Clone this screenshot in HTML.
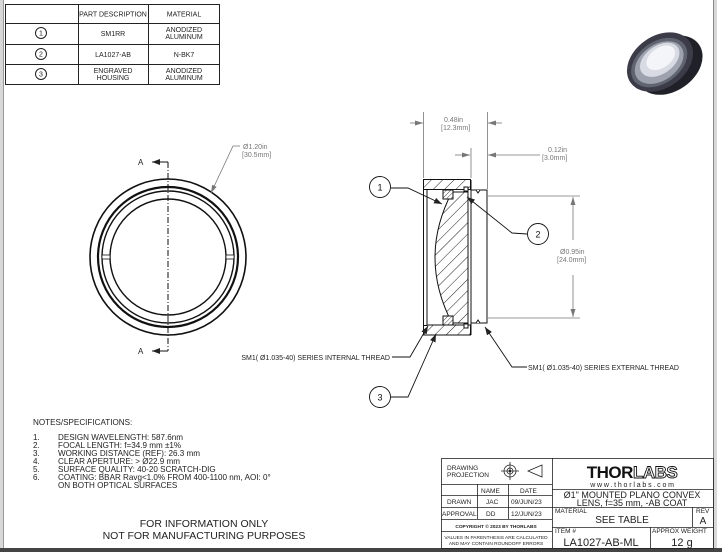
<!DOCTYPE html>
<html><head><meta charset="utf-8"><style>
html,body{margin:0;padding:0;background:#fff;}
svg{display:block;font-family:"Liberation Sans",sans-serif;}
</style></head><body>
<svg width="722" height="552" viewBox="0 0 722 552" xmlns="http://www.w3.org/2000/svg">
<defs>
<pattern id="h" patternUnits="userSpaceOnUse" width="8" height="8" patternTransform="rotate(45)">
<rect width="8" height="8" fill="#fff"/><line x1="0" y1="0" x2="0" y2="8" stroke="#222" stroke-width="1"/></pattern>
<pattern id="h2" patternUnits="userSpaceOnUse" width="3" height="3" patternTransform="rotate(45)">
<rect width="3" height="3" fill="#fff"/><line x1="0" y1="0" x2="0" y2="3" stroke="#222" stroke-width="0.8"/></pattern>
<marker id="ar" markerWidth="8" markerHeight="6" refX="8" refY="3" orient="auto" markerUnits="userSpaceOnUse"><path d="M0,0 L8,3 L0,6z" fill="#222"/></marker>
<marker id="ag" markerWidth="8" markerHeight="5" refX="8" refY="2.5" orient="auto" markerUnits="userSpaceOnUse"><path d="M0,0 L8,2.5 L0,5z" fill="#777"/></marker>
</defs>
<rect width="722" height="552" fill="#fff"/>
<rect x="0" y="0" width="3" height="552" fill="#d8d8d8"/>
<line x1="3.5" y1="0" x2="3.5" y2="548" stroke="#999"/>
<rect x="713" y="0" width="4" height="552" fill="#d8d8d8"/>
<line x1="713.5" y1="0" x2="713.5" y2="548" stroke="#888"/>
<rect x="0" y="548" width="722" height="4" fill="#444"/>

<g stroke="#222" stroke-width="1" fill="none">
<rect x="5.5" y="4.5" width="214" height="80"/>
<line x1="78.5" y1="4" x2="78.5" y2="84"/><line x1="148.5" y1="4" x2="148.5" y2="84"/>
<line x1="5" y1="23.5" x2="219" y2="23.5"/><line x1="5" y1="44.5" x2="219" y2="44.5"/><line x1="5" y1="64.5" x2="219" y2="64.5"/>
<circle cx="41" cy="33" r="5.5"/><circle cx="41" cy="54" r="5.5"/><circle cx="41" cy="74" r="5.5"/>
</g>
<g font-size="7" fill="#222" text-anchor="middle">
<text x="41" y="35.5">1</text><text x="41" y="56.5">2</text><text x="41" y="76.5">3</text>
<text x="113" y="16.5">PART DESCRIPTION</text><text x="184" y="16.5">MATERIAL</text>
<text x="113" y="36">SM1RR</text><text x="184" y="32">ANODIZED</text><text x="184" y="39">ALUMINUM</text>
<text x="113" y="57">LA1027-AB</text><text x="184" y="57">N-BK7</text>
<text x="113" y="73">ENGRAVED</text><text x="113" y="80">HOUSING</text>
<text x="184" y="73">ANODIZED</text><text x="184" y="80">ALUMINUM</text>
</g>

<!-- lens photo -->
<g transform="translate(660,62) rotate(-35)">
<ellipse cx="6" cy="8" rx="36" ry="26" fill="#202028"/>
<ellipse cx="0" cy="0" rx="36" ry="26" fill="#3c3c48"/>
<ellipse cx="-1" cy="0" rx="31" ry="21" fill="#606470"/>
<ellipse cx="-1" cy="0" rx="27" ry="18" fill="#9ea2ae"/>
<ellipse cx="1" cy="-2" rx="22" ry="14" fill="#d8dbe3"/>
<ellipse cx="3" cy="-3" rx="16" ry="10" fill="#f4f5f8"/>
</g>

<g fill="none" stroke="#111">
<circle cx="168" cy="257" r="78" stroke-width="1.6"/>
<circle cx="168" cy="257" r="70" stroke-width="2.2"/>
<circle cx="168" cy="257" r="66" stroke-width="1.4"/>
<circle cx="168" cy="257" r="58" stroke-width="1.4"/>
<line x1="168" y1="162" x2="168" y2="351" stroke-width="1" stroke-dasharray="6,2,1,2"/>
<line x1="168" y1="162" x2="152" y2="162" marker-end="url(#ar)"/>
<line x1="168" y1="351" x2="152" y2="351" marker-end="url(#ar)"/>
<rect x="102" y="255" width="8" height="4" fill="#fff" stroke-width="0.8"/>
<rect x="226" y="255" width="8" height="4" fill="#fff" stroke-width="0.8"/>
</g>
<text x="138" y="165" font-size="8" fill="#222">A</text>
<text x="138" y="354" font-size="8" fill="#222">A</text>
<polyline points="240,146 233,146 211,193" fill="none" stroke="#777" stroke-width="0.8" marker-end="url(#ag)"/>
<text x="243" y="149" font-size="7" fill="#777">Ø1.20in</text>
<text x="242" y="157" font-size="7" fill="#777">[30.5mm]</text>

<g stroke="#111" stroke-width="1">
<rect x="423.5" y="179.5" width="47" height="10" fill="url(#h)"/>
<rect x="423.5" y="325" width="47" height="10" fill="url(#h)"/>
<rect x="471" y="190" width="16" height="133" fill="#fff"/>
<path d="M471,190 L476,190 L478,193 L480,190 L487,190" fill="url(#h2)"/>
<path d="M471,323 L476,323 L478,320 L480,323 L487,323" fill="url(#h2)"/>
<rect x="423.5" y="189.5" width="3.5" height="136" fill="#fff"/>
<line x1="427" y1="189.5" x2="471" y2="189.5"/><line x1="427" y1="325" x2="471" y2="325"/>
<path d="M468,192 L468,323 L452,323 Q418,257.5 452,192 Z" fill="url(#h)"/>
<rect x="443" y="190" width="10" height="9" fill="url(#h2)"/>
<rect x="443" y="316" width="10" height="9" fill="url(#h2)"/>
<rect x="464" y="187" width="4" height="4" fill="#fff"/>
<rect x="464" y="324" width="4" height="4" fill="#fff"/>
<line x1="471" y1="180" x2="471" y2="335"/>
</g>
<g stroke="#777" stroke-width="0.8" fill="none">
<line x1="423.5" y1="112" x2="423.5" y2="178"/><line x1="487.5" y1="112" x2="487.5" y2="189"/>
<line x1="410" y1="123" x2="423" y2="123" marker-end="url(#ag)"/><line x1="502" y1="123" x2="488" y2="123" marker-end="url(#ag)"/>
<line x1="471" y1="148" x2="471" y2="178"/>
<line x1="455" y1="155" x2="470" y2="155" marker-end="url(#ag)"/><line x1="540" y1="155" x2="488" y2="155" marker-end="url(#ag)"/>
<line x1="488" y1="196" x2="580" y2="196"/><line x1="488" y1="318" x2="580" y2="318"/>
<line x1="573" y1="240" x2="573" y2="197" marker-end="url(#ag)"/><line x1="573" y1="275" x2="573" y2="317" marker-end="url(#ag)"/>
</g>
<g font-size="7" fill="#777">
<text x="444" y="122">0.48in</text><text x="441" y="130">[12.3mm]</text>
<text x="548" y="152">0.12in</text><text x="542" y="160">[3.0mm]</text>
<text x="560" y="254">Ø0.95in</text><text x="557" y="262">[24.0mm]</text>
</g>
<g fill="none" stroke="#111" stroke-width="0.9">
<circle cx="380" cy="187" r="10.5"/><circle cx="538" cy="234" r="10.5"/><circle cx="380" cy="397" r="10.5"/>
<polyline points="391,188 408,188 442,204" marker-end="url(#ar)"/>
<polyline points="527,234 512,233 467,197" marker-end="url(#ar)"/>
<polyline points="391,397 408,397 436,334" marker-end="url(#ar)"/>
<polyline points="392,357 410,357 428,326" marker-end="url(#ar)"/>
<polyline points="527,367 512,367 485,327" marker-end="url(#ar)"/>
</g>
<g font-size="9" fill="#111" text-anchor="middle">
<text x="380" y="190.5">1</text><text x="538" y="237.5">2</text><text x="380" y="400.5">3</text>
</g>
<g font-size="7" fill="#222">
<text x="390" y="360" text-anchor="end">SM1( Ø1.035-40) SERIES INTERNAL THREAD</text>
<text x="528" y="370">SM1( Ø1.035-40) SERIES EXTERNAL THREAD</text>
</g>

<g font-size="8.1" fill="#222">
<text x="33" y="425">NOTES/SPECIFICATIONS:</text>
<text x="33" y="440">1.</text><text x="58" y="440">DESIGN WAVELENGTH: 587.6nm</text>
<text x="33" y="448">2.</text><text x="58" y="448">FOCAL LENGTH: f=34.9 mm ±1%</text>
<text x="33" y="456">3.</text><text x="58" y="456">WORKING DISTANCE (REF): 26.3 mm</text>
<text x="33" y="464">4.</text><text x="58" y="464">CLEAR APERTURE: &gt; Ø22.9 mm</text>
<text x="33" y="472">5.</text><text x="58" y="472">SURFACE QUALITY: 40-20 SCRATCH-DIG</text>
<text x="33" y="480">6.</text><text x="58" y="480">COATING: BBAR Ravg&lt;1.0% FROM 400-1100 nm, AOI: 0°</text>
<text x="58" y="488">ON BOTH OPTICAL SURFACES</text>
</g>
<g font-size="10.5" fill="#222" text-anchor="middle">
<text x="204" y="527">FOR INFORMATION ONLY</text>
<text x="204" y="539">NOT FOR MANUFACTURING PURPOSES</text>
</g>

<g stroke="#222" stroke-width="0.8" fill="none">
<rect x="441.5" y="458.5" width="272" height="90"/>
<line x1="441" y1="484.5" x2="552" y2="484.5"/>
<line x1="441" y1="495.5" x2="552" y2="495.5"/>
<line x1="441" y1="507.5" x2="552" y2="507.5"/>
<line x1="441" y1="519.5" x2="552" y2="519.5"/>
<line x1="441" y1="531.5" x2="552" y2="531.5"/>
<line x1="477.5" y1="484" x2="477.5" y2="519"/>
<line x1="508.5" y1="484" x2="508.5" y2="519"/>
<line x1="552.5" y1="458" x2="552.5" y2="548"/>
<line x1="552" y1="489.5" x2="713" y2="489.5"/>
<line x1="552" y1="507.5" x2="713" y2="507.5"/>
<line x1="552" y1="527.5" x2="713" y2="527.5"/>
<line x1="692.5" y1="507" x2="692.5" y2="527"/>
<line x1="650.5" y1="527" x2="650.5" y2="548"/>
<circle cx="510" cy="471" r="6"/><circle cx="510" cy="471" r="3"/>
<line x1="501" y1="471" x2="519" y2="471"/><line x1="510" y1="462" x2="510" y2="480"/>
<path d="M528,471 L542,465 L542,477 Z"/>
</g>
<circle cx="510" cy="471" r="1.3" fill="#222"/>
<g fill="#222" font-size="6.5">
<text x="447" y="470">DRAWING</text><text x="447" y="477">PROJECTION</text>
<text x="481" y="493">NAME</text><text x="520" y="493">DATE</text>
<text x="447" y="504">DRAWN</text><text x="486" y="504">JAC</text><text x="511" y="504">09/JUN/23</text>
<text x="442" y="516">APPROVAL</text><text x="486" y="516">DD</text><text x="511" y="516">12/JUN/23</text>
<text x="496" y="528" font-size="4.8" font-weight="bold" text-anchor="middle">COPYRIGHT © 2023 BY THORLABS</text>
<text x="496" y="539" font-size="4.8" text-anchor="middle">VALUES IN PARENTHESIS ARE CALCULATED</text>
<text x="496" y="545" font-size="4.8" text-anchor="middle">AND MAY CONTAIN ROUNDOFF ERRORS</text>
<text x="555" y="513">MATERIAL</text><text x="696" y="513">REV</text>
<text x="555" y="533">ITEM #</text><text x="652" y="533">APPROX WEIGHT</text>
</g>
<text x="632" y="478" font-size="17" font-weight="bold" fill="#111" text-anchor="middle" letter-spacing="-0.5">THOR<tspan fill="#fff" stroke="#111" stroke-width="0.9">LABS</tspan></text>
<text x="633" y="487" font-size="7" fill="#222" text-anchor="middle" letter-spacing="1.8">www.thorlabs.com</text>
<g fill="#222" text-anchor="middle">
<text x="632" y="498" font-size="9">Ø1" MOUNTED PLANO CONVEX</text>
<text x="632" y="506" font-size="9">LENS, f=35 mm, -AB COAT</text>
<text x="622" y="523" font-size="10">SEE TABLE</text>
<text x="703" y="524" font-size="10">A</text>
<text x="601" y="546" font-size="11">LA1027-AB-ML</text>
<text x="682" y="546" font-size="11">12 g</text>
</g>
</svg>
</body></html>
